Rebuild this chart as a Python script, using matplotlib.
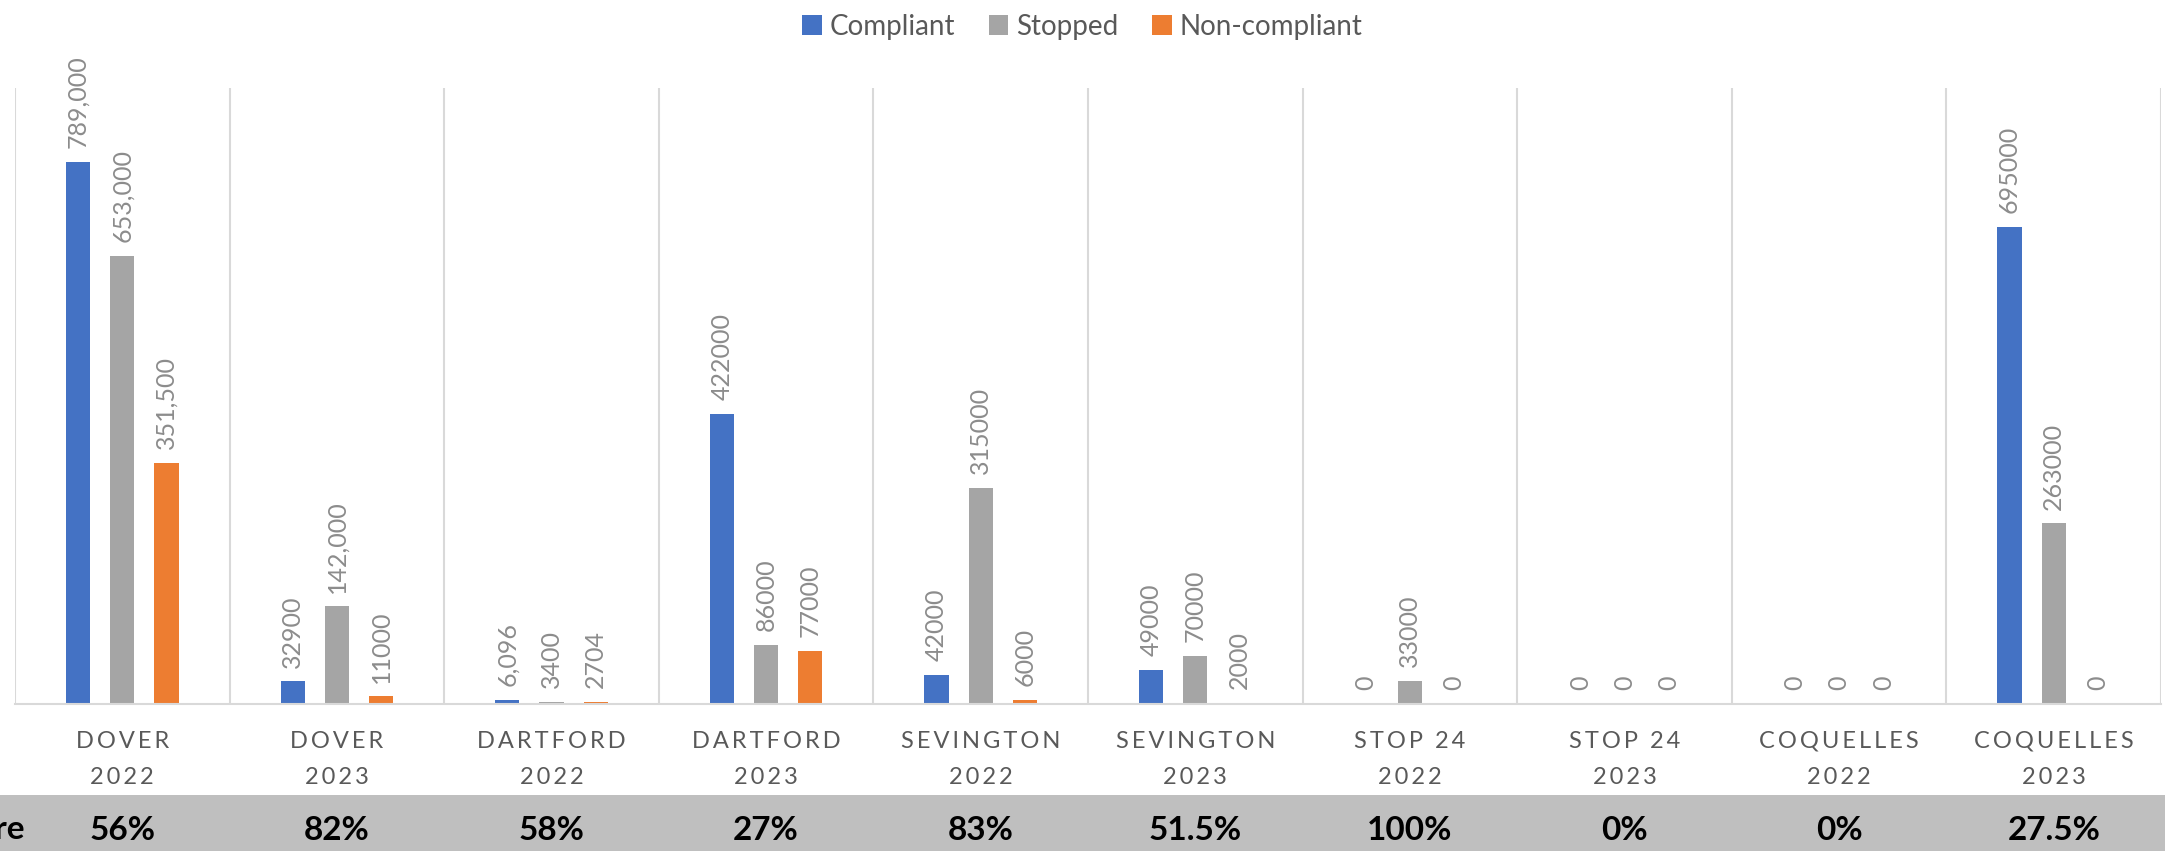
import numpy as np
import matplotlib.pyplot as plt
from matplotlib.patches import Rectangle
from matplotlib.transforms import blended_transform_factory

# Data
sites = ["DOVER", "DOVER", "DARTFORD", "DARTFORD", "SEVINGTON", "SEVINGTON",
         "STOP 24", "STOP 24", "COQUELLES", "COQUELLES"]
years = ["2022", "2023", "2022", "2023", "2022", "2023",
         "2022", "2023", "2022", "2023"]
compliant = [789000, 32900, 6096, 422000, 42000, 49000, 0, 0, 0, 695000]
stopped = [653000, 142000, 3400, 86000, 315000, 70000, 33000, 0, 0, 263000]
non_compliant = [351500, 11000, 2704, 77000, 6000, 2000, 0, 0, 0, 0]
compliant_lbl = ["789,000", "32900", "6,096", "422000", "42000", "49000", "0", "0", "0", "695000"]
stopped_lbl = ["653,000", "142,000", "3400", "86000", "315000", "70000", "33000", "0", "0", "263000"]
non_compliant_lbl = ["351,500", "11000", "2704", "77000", "6000", "2000", "0", "0", "0", "0"]
rates = ["56%", "82%", "58%", "27%", "83%", "51.5%", "100%", "0%", "0%", "27.5%"]
band_label = "Compliance Score"

series = [
    ("Compliant", compliant, compliant_lbl, "#4472C4"),
    ("Stopped", stopped, stopped_lbl, "#A5A5A5"),
    ("Non-compliant", non_compliant, non_compliant_lbl, "#ED7D31"),
]

plt.rcParams['font.family'] = ['Lato', 'DejaVu Sans']

fig = plt.figure(figsize=(21.65, 8.51), dpi=100)

# grey band behind everything
fig.patches.append(Rectangle((0, 0), 1, 56 / 851, transform=fig.transFigure,
                             facecolor="#BFBFBF", edgecolor="none", zorder=-5))

ax = fig.add_axes([15 / 2165, 147 / 851, 2146 / 2165, 616 / 851])

x = np.arange(len(sites))
offset = 0.206
width = 0.113

for i, (name, vals, lbls, col) in enumerate(series):
    pos = x + (i - 1) * offset
    ax.bar(pos, vals, width=width, color=col, label=name, zorder=2)
    for px, v, t in zip(pos, vals, lbls):
        ax.annotate(t, (px, v), xytext=(0, 10), textcoords="offset points",
                    rotation=90, ha="center", va="bottom",
                    fontsize=18, color="#8C8C8C")

ax.set_xlim(-0.5, len(sites) - 0.5)
ax.set_ylim(0, 897000)
ax.set_xticks([])
ax.set_yticks([])
for s in ["top", "right", "left"]:
    ax.spines[s].set_visible(False)
ax.spines["bottom"].set_color("#D9D9D9")
ax.spines["bottom"].set_linewidth(1.5)

# vertical separators between categories
for b in np.arange(-0.5, len(sites), 1.0):
    ax.axvline(b, color="#D9D9D9", lw=1.5, zorder=1)

# two-line category labels with letter spacing
tr = blended_transform_factory(ax.transData, fig.transFigure)
for xi, s, y in zip(x, sites, years):
    ax.text(xi, 1 - 741 / 851, "\u2009".join(s), transform=tr, ha="center",
            va="center", fontsize=17, color="#595959")
    ax.text(xi, 1 - 777 / 851, "\u2009".join(y), transform=tr, ha="center",
            va="center", fontsize=17, color="#595959")

for xi, r in zip(x, rates):
    ax.text(xi, 21 / 851, r, transform=tr, ha="center", va="center",
            fontsize=24, fontweight="bold", color="black")
fig.text(25 / 2165, 21 / 851, band_label, ha="right", va="center",
         fontsize=24, fontweight="bold", color="black")

ax.legend(loc="upper center", bbox_to_anchor=(0.5, 1.0),
          bbox_transform=fig.transFigure, ncol=3, frameon=False,
          fontsize=20, handlelength=0.7, handleheight=0.7,
          handletextpad=0.3, columnspacing=1.2, labelcolor="#595959",
          borderaxespad=0.1)

fig.savefig("out.png", dpi=100)
